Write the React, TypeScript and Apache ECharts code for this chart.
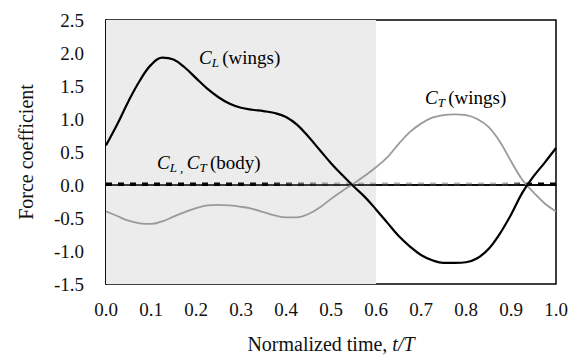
import React, { useEffect, useRef } from "react";
import * as echarts from "echarts";

const timeSteps = [
  0, 0.025, 0.05, 0.075, 0.1, 0.125, 0.15, 0.175, 0.2, 0.225, 0.25, 0.275, 0.3, 0.325, 0.35, 0.375, 0.4,
  0.425, 0.45, 0.475, 0.5, 0.525, 0.55, 0.575, 0.6, 0.625, 0.65, 0.675, 0.7, 0.725, 0.75, 0.775, 0.8,
  0.825, 0.85, 0.875, 0.9, 0.925, 0.95, 0.975, 1.0,
];
const clWings = [
  0.6, 0.92, 1.27, 1.58, 1.82, 1.93, 1.9, 1.78, 1.62, 1.46, 1.33, 1.23, 1.17, 1.14, 1.12, 1.09, 1.03,
  0.91, 0.73, 0.53, 0.33, 0.15, -0.02, -0.18, -0.37, -0.57, -0.77, -0.93, -1.06, -1.14, -1.18, -1.18,
  -1.17, -1.11, -0.97, -0.74, -0.45, -0.12, 0.13, 0.34, 0.56,
];
const ctWings = [
  -0.4, -0.47, -0.54, -0.58, -0.59, -0.55, -0.48, -0.41, -0.35, -0.31, -0.3, -0.31, -0.33, -0.36, -0.41,
  -0.46, -0.49, -0.49, -0.44, -0.34, -0.21, -0.09, 0.02, 0.14, 0.27, 0.42, 0.62, 0.8, 0.93, 1.02, 1.06, 1.07,
  1.06, 1.0, 0.88, 0.66, 0.36, 0.08, -0.11, -0.28, -0.4,
];
const bodyTime = [0, 0.1, 0.2, 0.3, 0.4, 0.5, 0.6, 0.7, 0.8, 0.9, 1.0];
const clBody = [0, 0, 0, 0, 0, 0, 0, 0, 0, 0, 0];
const ctBody = [0.01, 0.01, 0.01, 0.01, 0.01, 0.01, 0.01, 0.01, 0.01, 0.01, 0.01];
const shadeRange = [0, 0.6];

const SERIF = "Liberation Serif";

const zip = (xs: number[], ys: number[]) => xs.map((x, i) => [x, ys[i]]);

const subRich = {
  c: { fontFamily: SERIF, fontSize: 19, fontStyle: "italic", lineHeight: 24, verticalAlign: "middle", color: "#111" },
  s: { fontFamily: SERIF, fontSize: 13, fontStyle: "italic", lineHeight: 13, verticalAlign: "bottom", color: "#111" },
  m: { fontFamily: SERIF, fontSize: 19, lineHeight: 24, verticalAlign: "middle", color: "#111" },
};

export default function App() {
  const ref = useRef<HTMLDivElement>(null);
  useEffect(() => {
    if (!ref.current) return;
    const chart = echarts.init(ref.current, null, { renderer: "svg" });
    const gridLeft = 106;
    const gridRight = 20;
    chart.setOption({
      animation: false,
      backgroundColor: "#fff",
      textStyle: { fontFamily: SERIF },
      grid: {
        left: gridLeft,
        right: gridRight,
        top: 20,
        bottom: 74,
        show: true,
        borderColor: "#000",
        borderWidth: 1.5,
        backgroundColor: "#fff",
        outerBoundsMode: "none",
        containLabel: false,
      },
      xAxis: {
        type: "value",
        min: 0,
        max: 1,
        interval: 0.1,
        name: "Normalized time, {i|t/T}",
        nameLocation: "middle",
        nameGap: 50,
        nameTextStyle: {
          fontFamily: SERIF,
          fontSize: 20,
          color: "#111",
          rich: { i: { fontFamily: SERIF, fontSize: 20, fontStyle: "italic", color: "#111" } },
        },
        axisLine: { show: true, lineStyle: { color: "#000", width: 1.5 } },
        axisTick: { show: false },
        splitLine: { show: false },
        axisLabel: {
          fontFamily: SERIF,
          fontSize: 19,
          color: "#111",
          margin: 16,
          formatter: (v: number) => v.toFixed(1),
        },
      },
      yAxis: {
        type: "value",
        min: -1.5,
        max: 2.5,
        interval: 0.5,
        name: "Force coefficient",
        nameLocation: "middle",
        nameGap: 70,
        nameTextStyle: { fontFamily: SERIF, fontSize: 20, color: "#111" },
        axisLine: { show: true, lineStyle: { color: "#000", width: 1.5 } },
        axisTick: { show: false },
        splitLine: { show: false },
        axisLabel: {
          fontFamily: SERIF,
          fontSize: 19,
          color: "#111",
          margin: 22,
          formatter: (v: number) => v.toFixed(1),
        },
      },
      series: [
        {
          name: "shade",
          type: "line",
          data: [],
          silent: true,
          markArea: {
            silent: true,
            itemStyle: { color: "#ececec" },
            data: [[{ xAxis: shadeRange[0] }, { xAxis: shadeRange[1] }]],
          },
          z: 1,
        },
        {
          name: "CT body",
          type: "line",
          data: zip(bodyTime, ctBody),
          showSymbol: false,
          lineStyle: {
            width: 3.5,
            type: [6, 6],
            color: {
              type: "linear",
              global: true,
              x: gridLeft,
              y: 0,
              x2: 576 - gridRight,
              y2: 0,
              colorStops: [
                { offset: 0, color: "#000" },
                { offset: 0.35, color: "#111" },
                { offset: 0.5, color: "#aaa" },
                { offset: 0.88, color: "#bbb" },
                { offset: 0.95, color: "#000" },
                { offset: 1, color: "#000" },
              ],
            },
          },
          z: 3,
        },
        {
          name: "CL body",
          type: "line",
          data: zip(bodyTime, clBody),
          showSymbol: false,
          lineStyle: { width: 1.5, color: "#000" },
          z: 4,
        },
        {
          name: "CT wings",
          type: "line",
          data: zip(timeSteps, ctWings),
          showSymbol: false,
          smooth: 0.4,
          lineStyle: { width: 1.8, color: "#9a9a9a" },
          z: 5,
        },
        {
          name: "CL wings",
          type: "line",
          data: zip(timeSteps, clWings),
          showSymbol: false,
          smooth: 0.4,
          lineStyle: { width: 2.2, color: "#000" },
          z: 6,
        },
      ],
      graphic: [
        {
          type: "text",
          x: 199,
          y: 57,
          z: 10,
          style: { text: "{c|C}{s|L} {m|(wings)}", rich: subRich, verticalAlign: "middle", align: "left" },
        },
        {
          type: "text",
          x: 157,
          y: 162,
          z: 10,
          style: {
            text: "{c|C}{s|L ,} {c|C}{s|T} {m|(body)}",
            rich: subRich,
            verticalAlign: "middle",
            align: "left",
          },
        },
        {
          type: "text",
          x: 425,
          y: 97,
          z: 10,
          style: { text: "{c|C}{s|T} {m|(wings)}", rich: subRich, verticalAlign: "middle", align: "left" },
        },
      ],
    });
    return () => chart.dispose();
  }, []);
  return (
    <div
      ref={ref}
      style={{ position: "fixed", left: 0, top: 0, width: 576, height: 358, background: "#fff" }}
    />
  );
}
